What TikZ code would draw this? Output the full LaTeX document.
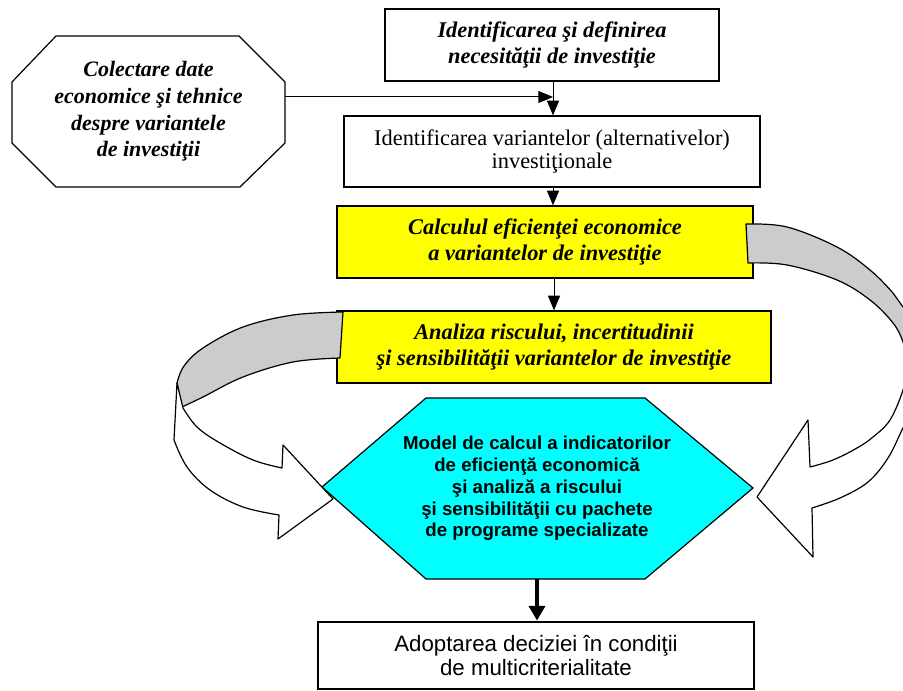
\documentclass[tikz,border=0pt]{standalone}
\usepackage{fontspec}
\setmainfont{Liberation Serif}
\newfontfamily\arsans{Liberation Sans}
\usetikzlibrary{arrows.meta}
\definecolor{ribgray}{HTML}{CCCCCC}
\definecolor{boxyellow}{HTML}{FFFF00}
\definecolor{hexcyan}{HTML}{00FFFF}
\begin{document}
\begin{tikzpicture}[x=0.75pt,y=-0.75pt,
  boxnode/.style={draw=black, line width=0.9pt, align=center, inner sep=0pt},
  bifont/.style={font=\bfseries\itshape\fontsize{16.8}{19.5}\selectfont},
  octfont/.style={font=\bfseries\itshape\fontsize{16.5}{20}\selectfont},
  arr/.style={line width=0.75pt, -{Triangle[length=11pt,width=9pt]}},
  thickarr/.style={line width=3.5pt, -{Triangle[length=11pt,width=12pt]}},
  ribbon/.style={draw=black, line width=0.9pt, line join=round}]
\useasboundingbox (0,0) rectangle (903,691);

% top box
\node[boxnode, bifont, minimum width=334*0.75pt, minimum height=72*0.75pt] (need) at (552,45)
  {Identificarea şi definirea\\necesităţii de investiţie};
% octagon
\draw[line width=0.9pt, line join=miter] (56,36) -- (239,36) -- (285,82) -- (285,143) -- (240,187) -- (56,187) -- (12,143) -- (12,82) -- cycle;
\node[align=center, octfont, inner sep=0pt] (oct) at (148.5,111.5)
  {Colectare date\\economice şi tehnice\\despre variantele\\de investiţii};
% second box
\node[boxnode, align=center, font=\fontsize{16.8}{17.5}\selectfont, minimum width=416*0.75pt, minimum height=71*0.75pt] (alt) at (552,151.5)
  {Identificarea variantelor (alternativelor)\\investiţionale};
% yellow boxes
\node[boxnode, bifont, fill=boxyellow, minimum width=416*0.75pt, minimum height=72*0.75pt] (calc) at (545,242)
  {Calculul eficienţei economice\\a variantelor de investiţie};
\node[boxnode, bifont, fill=boxyellow, minimum width=434*0.75pt, minimum height=72*0.75pt] (risk) at (554,347)
  {Analiza riscului, incertitudinii\\şi sensibilităţii variantelor de investiţie};
% hexagon
\draw[line width=0.9pt, fill=hexcyan, line join=miter] (426,398) -- (645,398) -- (753,488) -- (645,579) -- (426,579) -- (322,487) -- cycle;
\node[align=center, font=\arsans\bfseries\fontsize{14}{16.3}\selectfont, inner sep=0pt, minimum height=181*0.75pt] (model) at (537,488.5)
  {Model de calcul a indicatorilor\\de eficienţă economică\\şi analiză a riscului\\şi sensibilităţii cu pachete\\de programe specializate};
% bottom box
\node[boxnode, line width=2.2pt, align=center, font=\arsans\fontsize{16.7}{17.5}\selectfont, minimum width=436*0.75pt, minimum height=67*0.75pt] (dec) at (536,655.5)
  {Adoptarea deciziei în condiţii\\de multicriterialitate};

% connectors
\coordinate (octout) at (285,97);
\coordinate (join) at (553,97);
\draw[arr] (octout) -- (join);
\draw[arr] (need.south -| join) -- (alt.north -| join);
\draw[arr] (alt.south -| join) -- (calc.north -| join);
\draw[arr] (calc.south -| 554,0) -- (risk.north -| 554,0);
\draw[thickarr] (model.south) -- (dec.north -| model.south);

% ribbons
\begin{scope}
\clip (0,0) rectangle (903,691);
% left ribbon
\filldraw[ribbon, fill=ribgray] (343,312) -- plot[smooth, tension=0.6] coordinates {(343,312) (293,315) (243,327) (203,348) (184,366) (177,383)}
  -- plot[smooth, tension=0.6] coordinates {(182,407) (203,397) (243,377) (293,362) (340,358)} -- cycle;
\filldraw[ribbon, fill=white] (177,383) -- (174,440)
  -- plot[smooth, tension=0.6] coordinates {(174,440) (187,467) (210,490) (243,507) (279,515)}
  -- (278,539) -- (333,499) -- (283,445) -- (282,468)
  -- plot[smooth, tension=0.6] coordinates {(282,468) (253,460) (220,443) (197,427) (183,408)} -- cycle;
% right ribbon
\filldraw[ribbon, fill=ribgray] (746,224) -- plot[smooth, tension=0.6] coordinates {(746,224) (787,227) (837,247) (870,270) (893,293) (903,307) (918,335) (925,365)}
  -- plot[smooth, tension=0.6] coordinates {(908,365) (903,342) (893,323) (870,300) (837,280) (787,265) (748,263)} -- cycle;
\filldraw[ribbon, fill=white] (925,365) -- plot[smooth, tension=0.6] coordinates {(925,365) (918,400) (903,428) (888,458) (868,482) (840,498) (812,508)}
  -- (813,557) -- (757,497) -- (808,420) -- (810,467)
  -- plot[smooth, tension=0.6] coordinates {(810,467) (833,460) (857,448) (873,437) (890,420) (903,390) (908,365)} -- cycle;
\end{scope}
\end{tikzpicture}
\end{document}
